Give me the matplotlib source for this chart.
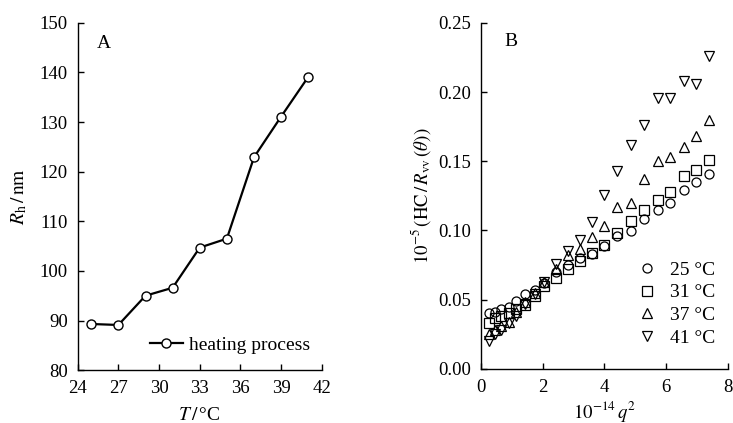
import matplotlib
matplotlib.use("Agg")
import matplotlib.pyplot as plt

plt.rcParams['font.family'] = ['Liberation Serif', 'DejaVu Serif']
plt.rcParams['mathtext.fontset'] = 'stix'

# Panel A data
temps = [25, 27, 29, 31, 33, 35, 37, 39, 41]
rh = [89.3, 89.1, 95.0, 96.6, 104.7, 106.5, 122.9, 131.1, 139.1]

# Panel B data
q2 = [0.27, 0.46, 0.66, 0.90, 1.14, 1.43, 1.74, 2.05, 2.45, 2.82, 3.20,
      3.59, 3.99, 4.42, 4.86, 5.29, 5.74, 6.14, 6.57, 6.98, 7.40]
s25 = [0.040, 0.041, 0.043, 0.045, 0.049, 0.054, 0.057, 0.062, 0.070, 0.075, 0.080,
       0.083, 0.089, 0.096, 0.0996, 0.108, 0.115, 0.1196, 0.129, 0.135, 0.141]
s31 = [0.033, 0.037, 0.038, 0.040, 0.043, 0.046, 0.053, 0.060, 0.066, 0.072, 0.078,
       0.084, 0.0895, 0.098, 0.107, 0.115, 0.122, 0.128, 0.139, 0.1437, 0.151]
s37 = [0.025, 0.028, 0.031, 0.034, 0.041, 0.048, 0.055, 0.063, 0.072, 0.082, 0.0864,
       0.0955, 0.103, 0.117, 0.1196, 0.137, 0.150, 0.153, 0.160, 0.168, 0.180]
s41 = [0.020, 0.025, 0.028, 0.033, 0.038, 0.047, 0.054, 0.063, 0.076, 0.085, 0.093,
       0.106, 0.1256, 0.143, 0.162, 0.176, 0.196, 0.196, 0.208, 0.206, 0.226]
series_labels = ['25 °C', '31 °C', '37 °C', '41 °C']
series_markers = ['o', 's', '^', 'v']

fig = plt.figure(figsize=(7.33, 4.23), dpi=100)
axA = fig.add_axes([0.106, 0.125, 0.333, 0.821])
axB = fig.add_axes([0.656, 0.128, 0.337, 0.818])

FS = 13.5
LFS = 14

for ax in (axA, axB):
    for s in ('top', 'right'):
        ax.spines[s].set_visible(False)
    ax.spines['left'].set_linewidth(1.0)
    ax.spines['bottom'].set_linewidth(1.0)
    ax.tick_params(direction='in', length=4, width=1.0, labelsize=FS)
    ax.tick_params(axis='y', pad=7)
    ax.tick_params(axis='x', pad=7)

# Panel A
axA.plot(temps, rh, '-o', color='black', lw=1.6, ms=6.5, mfc='white',
         mec='black', mew=1.0, label='heating process')
axA.set_xlim(24, 42)
axA.set_ylim(80, 150)
axA.set_xticks([24, 27, 30, 33, 36, 39, 42])
axA.set_yticks([80, 90, 100, 110, 120, 130, 140, 150])
axA.set_xlabel(r'$T\,/\,$°C', fontsize=LFS, labelpad=7)
axA.set_ylabel(r'$R_{\mathrm{h}}\,/\,\mathrm{nm}$', fontsize=LFS, labelpad=8)
axA.text(0.08, 0.94, 'A', transform=axA.transAxes, fontsize=LFS, va='center')
axA.legend(loc='upper left', frameon=False, fontsize=LFS, handlelength=1.7,
           handletextpad=0.3, borderaxespad=0, borderpad=0,
           bbox_to_anchor=(0.296, 0.098))

# Panel B
for ys, lab, mk in zip([s25, s31, s37, s41], series_labels, series_markers):
    axB.plot(q2, ys, linestyle='none', marker=mk, ms=6.5, mfc='none',
             mec='black', mew=0.9, label=lab)
axB.set_xlim(0, 8)
axB.set_ylim(0, 0.25)
axB.set_xticks([0, 2, 4, 6, 8])
axB.set_yticks([0.00, 0.05, 0.10, 0.15, 0.20, 0.25])
axB.set_yticklabels(['0.00', '0.05', '0.10', '0.15', '0.20', '0.25'])
axB.set_xlabel(r'$10^{-14}\,q^{2}$', fontsize=FS, labelpad=2.5)
axB.set_ylabel(r'$10^{-5}\,(\mathrm{HC}\,/\,R_{\mathrm{vv}}\,(\theta))$', fontsize=FS, labelpad=4)
axB.text(0.095, 0.945, 'B', transform=axB.transAxes, fontsize=LFS, va='center')
axB.legend(loc='upper left', frameon=False, fontsize=LFS, handlelength=1.0,
           handletextpad=0.65, labelspacing=0.27, borderaxespad=0, borderpad=0,
           bbox_to_anchor=(0.634, 0.312))

fig.savefig('out.png', dpi=100)
